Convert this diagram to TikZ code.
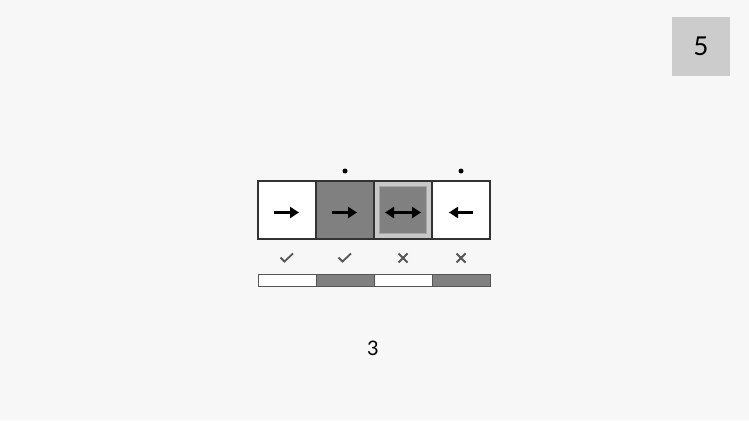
\documentclass[tikz,border=0pt]{standalone}
\usepackage{fontspec}
\setmainfont{Lato}
\usetikzlibrary{arrows.meta}
\definecolor{bg}{HTML}{F7F7F7}
\definecolor{cellline}{HTML}{333333}
\definecolor{darkcell}{HTML}{808080}
\definecolor{lightframe}{HTML}{C8C8C8}
\definecolor{marks}{HTML}{555555}
\definecolor{badge}{HTML}{CCCCCC}

\begin{document}
\begin{tikzpicture}[x=1pt,y=-1pt,
  cell/.style={draw=cellline,line width=1.5pt,minimum width=58pt,minimum height=58pt,inner sep=0pt},
  seg/.style={draw=marks,line width=1pt,minimum width=58pt,minimum height=12pt,inner sep=0pt},
  arr/.style={line width=3pt,-{Triangle[length=9pt,width=11pt]}},
  darr/.style={line width=3pt,{Triangle[length=9pt,width=11pt]}-{Triangle[length=9pt,width=11pt]}},
  tick/.style={draw=marks,line width=1.8pt}]
\fill[bg] (0,0) rectangle (749,420);
\useasboundingbox (0,0) rectangle (749,420);
% badge
\node[fill=badge,minimum width=58pt,minimum height=59pt,inner sep=0pt,font=\fontsize{26}{26}\selectfont] at (701,46.5) (badge) {5};
% cells
\node[cell,fill=white] at (287,210) (c1) {};
\node[cell,fill=darkcell] at (345,210) (c2) {};
\node[cell,fill=lightframe] at (403,210) (c3) {};
\node[draw=black!35,fill=darkcell,minimum width=47pt,minimum height=47pt,inner sep=0pt] at (403,210) (c3in) {};
\node[cell,fill=white] at (461,210) (c4) {};
% arrows
\coordinate (a1s) at (274,212.5); \coordinate (a1e) at (299,212.5);
\coordinate (a2s) at (332,212.5); \coordinate (a2e) at (357,212.5);
\coordinate (a3s) at (385,212.5); \coordinate (a3e) at (421,212.5);
\coordinate (a4s) at (473,212.5); \coordinate (a4e) at (449,212.5);
\draw[arr] (a1s) -- (a1e);
\draw[arr] (a2s) -- (a2e);
\draw[darr] (a3s) -- (a3e);
\draw[arr] (a4s) -- (a4e);
% dots
\fill (345,171) circle (2.5pt);
\fill (461,171) circle (2.5pt);
% checks and crosses
\coordinate (k1) at (287,258);
\coordinate (k2) at (345,258);
\coordinate (k3) at (403,258);
\coordinate (k4) at (461,258);
\foreach \k in {k1,k2}
  \draw[tick] ([shift={(-6.5,-0.5)}]\k) -- ([shift={(-2.5,3.5)}]\k) -- ([shift={(6,-4.5)}]\k);
\foreach \k in {k3,k4}{
  \draw[tick] ([shift={(-4.5,-4.5)}]\k) -- ([shift={(4.5,4.5)}]\k);
  \draw[tick] ([shift={(-4.5,4.5)}]\k) -- ([shift={(4.5,-4.5)}]\k);
}
% bar
\node[seg,fill=white] at (287,280) (b1) {};
\node[seg,fill=darkcell] at (345,280) (b2) {};
\node[seg,fill=white] at (403,280) (b3) {};
\node[seg,fill=darkcell] at (461,280) (b4) {};
% label
\node[font=\fontsize{20}{20}\selectfont] at (373,348) (count) {3};
\end{tikzpicture}
\end{document}
